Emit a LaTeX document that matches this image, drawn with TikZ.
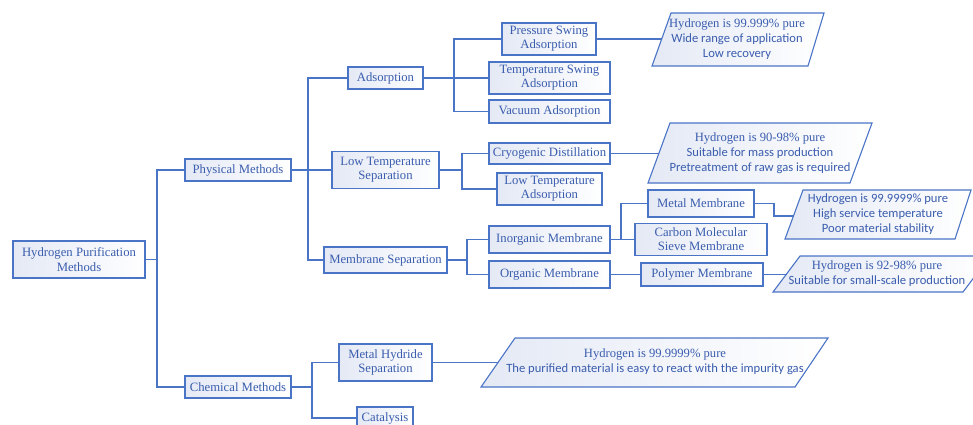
\documentclass[tikz,border=0pt]{standalone}
\usepackage{fontspec}
\setmainfont{Liberation Serif}
\newfontfamily\calib{Carlito}
\definecolor{lnc}{HTML}{4A74C6}
\definecolor{txc}{HTML}{3A5DAE}
\definecolor{bfc}{HTML}{E4E9F5}
\begin{document}
\begin{tikzpicture}[x=1pt,y=-1pt,
  box/.style={draw=lnc, line width=1.1pt, left color=bfc, right color=white,
    text=txc, align=center, inner sep=0pt, font=\fontsize{12.7}{14.2}\selectfont},
  para/.style={draw=lnc, line width=1.1pt, left color=bfc, right color=white},
  ptext/.style={text=txc, align=center, inner sep=0pt, font=\fontsize{12.6}{14.8}\selectfont},
  conn/.style={draw=lnc, line width=1.2pt}]
\useasboundingbox (0,0) rectangle (973,425);

% boxes
\node[box, minimum width=132, minimum height=37] (root) at (79,259.5) {Hydrogen Purification\\Methods};
\node[box, minimum width=106, minimum height=22] (phys) at (238,170) {Physical Methods};
\node[box, minimum width=106, minimum height=22] (chem) at (238,387) {Chemical Methods};
\node[box, minimum width=75, minimum height=22] (ads) at (385.5,78) {Adsorption};
\node[box, minimum width=107, minimum height=37] (lts) at (385.5,170) {Low Temperature\\Separation};
\node[box, minimum width=123, minimum height=26] (mem) at (385.5,260) {Membrane Separation};
\node[box, minimum width=94, minimum height=32] (psa) at (549,39) {Pressure Swing\\Adsorption};
\node[box, minimum width=121, minimum height=32] (tsa) at (549.5,78) {Temperature Swing\\Adsorption};
\node[box, minimum width=121, minimum height=23] (vac) at (549.5,111.5) {Vacuum Adsorption};
\node[box, minimum width=121, minimum height=21] (cryo) at (549.5,153.5) {Cryogenic Distillation};
\node[box, minimum width=105, minimum height=32] (lta) at (549.5,189) {Low Temperature\\Adsorption};
\node[box, minimum width=121, minimum height=27] (inorg) at (549.5,239.5) {Inorganic Membrane};
\node[box, minimum width=121, minimum height=27] (org) at (549.5,274.5) {Organic Membrane};
\node[box, minimum width=106, minimum height=27] (metal) at (701,203.5) {Metal Membrane};
\node[box, minimum width=132, minimum height=32] (carbon) at (701,239.5) {Carbon Molecular\\Sieve Membrane};
\node[box, minimum width=122, minimum height=23] (poly) at (702,274.5) {Polymer Membrane};
\node[box, minimum width=93, minimum height=37] (mhs) at (385.5,362.5) {Metal Hydride\\Separation};
\node[box, minimum width=56, minimum height=22] (cat) at (385,418) {Catalysis};

% parallelograms
\path[para] (671,13) -- (824,13) -- (808,66) -- (652,66) -- cycle;
\node[ptext] (p1) at (737,39) {Hydrogen is 99.999\% pure\\{\calib Wide range of application}\\{\calib Low recovery}};
\coordinate (p1in) at (661.7,39);

\path[para] (670,123) -- (872,123) -- (850,183) -- (648,183) -- cycle;
\node[ptext] (p2) at (760,153) {Hydrogen is 90-98\% pure\\{\calib Suitable for mass production}\\{\calib Pretreatment of raw gas is required}};
\coordinate (p2in) at (659,153.5);

\path[para] (803,190) -- (971,190) -- (955,239) -- (785,239) -- cycle;
\node[ptext] (p3) at (878,214) {{\calib Hydrogen is 99.9999\% pure}\\{\calib High service temperature}\\{\calib Poor material stability}};
\coordinate (p3in) at (793.4,216);

\path[para] (800,256) -- (990,256) -- (963,292) -- (773,292) -- cycle;
\node[ptext] (p4) at (877,273.5) {Hydrogen is 92-98\% pure\\{\calib Suitable for small-scale production}};
\coordinate (p4in) at (786.5,274.5);

\path[para] (515,338) -- (828,338) -- (795,387) -- (481,387) -- cycle;
\node[ptext] (p5) at (655,361.5) {Hydrogen is 99.9999\% pure\\{\calib The purified material is easy to react with the impurity gas}};
\coordinate (p5in) at (497.6,362.5);

% bus coordinates
\coordinate (b0) at (157,0);
\coordinate (b1) at (308,0);
\coordinate (b2) at (454,0);
\coordinate (b3) at (462,0);
\coordinate (b4) at (467,0);
\coordinate (b5) at (621,0);
\coordinate (b6) at (312,0);
\coordinate (b7) at (774,0);

% connectors
\draw[conn] (root.east) -- (root.east -| b0) |- (phys.west);
\draw[conn] (root.east -| b0) |- (chem.west);
\draw[conn] (phys.east) -- (lts.west);
\draw[conn] (phys.east -| b1) |- (ads.west);
\draw[conn] (phys.east -| b1) |- (mem.west);
\draw[conn] (ads.east) -- (tsa.west);
\draw[conn] (ads.east -| b2) |- (psa.west);
\draw[conn] (ads.east -| b2) |- (vac.west);
\draw[conn] (lts.east) -- (lts.east -| b3) |- (cryo.west);
\draw[conn] (lts.east -| b3) |- (lta.west);
\draw[conn] (mem.east) -- (mem.east -| b4) |- (inorg.west);
\draw[conn] (mem.east -| b4) |- (org.west);
\draw[conn] (inorg.east) -- (carbon.west);
\draw[conn] (inorg.east -| b5) |- (metal.west);
\draw[conn] (org.east) -- (poly.west);
\draw[conn] (chem.east) -- (chem.east -| b6) |- (mhs.west);
\draw[conn] (chem.east -| b6) |- (cat.west);
\draw[conn] (psa.east) -- (p1in);
\draw[conn] (cryo.east) -- (p2in);
\draw[conn] (metal.east) -- (metal.east -| b7) |- (p3in);
\draw[conn] (poly.east) -- (p4in);
\draw[conn] (mhs.east) -- (p5in);
\end{tikzpicture}
\end{document}
